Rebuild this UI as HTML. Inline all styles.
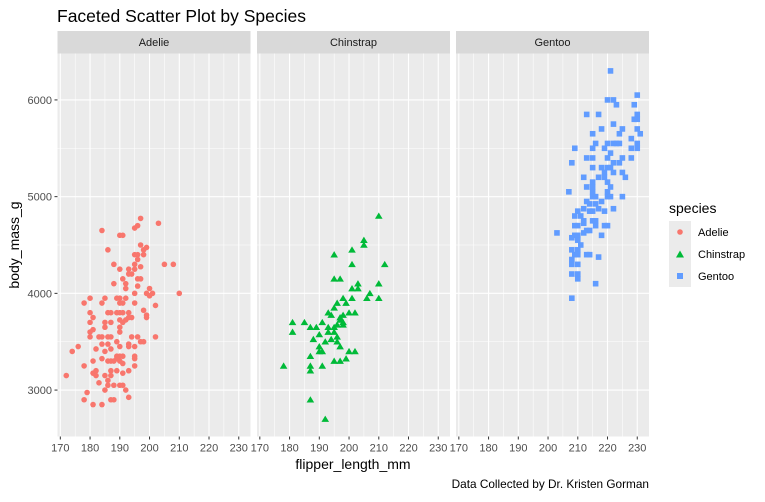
<!DOCTYPE html>
<html><head><meta charset="utf-8">
<style>
html,body{margin:0;padding:0;background:#fff;}
svg text{font-family:"Liberation Sans",Arial,sans-serif;}
</style></head>
<body>
<svg id="chart" width="765" height="497" xmlns="http://www.w3.org/2000/svg">
<text x="57" y="22" font-size="17.5" fill="#000">Faceted Scatter Plot by Species</text>
<g id="panels"></g>
<text x="353" y="469" font-size="14" text-anchor="middle" fill="#000">flipper_length_mm</text>
<text transform="translate(19,245) rotate(-90)" font-size="14" text-anchor="middle" fill="#000">body_mass_g</text>
<text x="649" y="488" font-size="11.8" text-anchor="end" fill="#000">Data Collected by Dr. Kristen Gorman</text>
<g>
<text x="669" y="213" font-size="14" fill="#000">species</text>
<rect x="669" y="221" width="22" height="22" fill="#ebebeb"/>
<circle cx="680" cy="232" r="2.8" fill="#F8766D"/>
<text x="698" y="236" font-size="11" fill="#000">Adelie</text>
<rect x="669" y="243" width="22" height="22" fill="#ebebeb"/>
<polygon points="680,250.5 684,257.5 676,257.5" fill="#00BA38"/>
<text x="698" y="258" font-size="11" fill="#000">Chinstrap</text>
<rect x="669" y="265" width="22" height="22" fill="#ebebeb"/>
<rect x="677" y="273" width="6" height="6" fill="#619CFF"/>
<text x="698" y="280" font-size="11" fill="#000">Gentoo</text>
</g>
</svg>
<script>
const species = ["Adelie","Chinstrap","Gentoo"];
const xTicks = [170,180,190,200,210,220,230];
const yTicks = [3000,4000,5000,6000];
const adelieFlipper = [197,203,196,195,184,190,191,197,199,186,198,195,196,198,196,188,195,205,208,190,193,195,197,193,194,196,197,191,188,192,192,196,200,195,199,201,200,210,180,185,189,190,192,178,184,190,191,195,202,198,180,186,187,189,190,191,193,199,199,181,194,193,192,190,191,185,187,180,190,185,181,180,190,180,183,184,186,187,194,196,202,197,198,184,189,193,176,186,190,193,195,174,182,185,187,191,189,190,195,195,184,186,187,188,189,190,181,178,191,195,187,189,193,191,181,182,182,185,187,172,186,183,186,188,190,191,185,192,179,178,187,188,193,181,184];
const adelieMass = [4775,4725,4700,4675,4650,4600,4600,4500,4475,4450,4450,4400,4400,4400,4350,4300,4300,4300,4300,4250,4250,4250,4275,4200,4200,4150,4150,4150,4100,4100,4050,4075,4050,4000,4000,4000,3975,4000,3950,3950,3950,3950,3950,3900,3900,3900,3900,3900,3875,3825,3800,3800,3800,3800,3800,3800,3800,3775,3750,3750,3750,3750,3725,3725,3700,3700,3700,3700,3650,3650,3625,3600,3600,3550,3550,3550,3550,3550,3550,3550,3550,3500,3500,3475,3500,3475,3450,3475,3450,3450,3450,3400,3425,3400,3425,3350,3350,3350,3350,3325,3325,3300,3300,3300,3325,3300,3300,3250,3275,3250,3200,3200,3200,3175,3175,3200,3150,3150,3150,3150,3100,3075,3050,3050,3050,3050,3000,3000,2975,2900,2900,2900,2925,2850,2850];
const chinFlipper = [210,205,205,195,201,201,212,195,197,203,203,201,210,207,206,210,198,201,196,199,195,193,194,200,202,198,197,197,198,198,196,195,193,191,189,187,185,181,181,193,195,190,196,194,188,192,196,190,197,190,191,200,202,187,199,195,197,178,187,191,187,187,192];
const chinMass = [4800,4550,4500,4400,4450,4300,4300,4150,4150,4100,4050,4050,4100,4000,3950,3950,3950,3950,3900,3900,3850,3800,3775,3800,3800,3775,3750,3725,3700,3675,3675,3650,3650,3700,3650,3650,3700,3700,3600,3600,3600,3575,3550,3525,3525,3500,3500,3450,3450,3400,3400,3400,3400,3350,3325,3300,3300,3250,3250,3250,3200,2900,2700];
const gentooFlipper = [221,230,220,222,223,229,213,217,230,229,230,222,218,225,215,224,230,231,228,216,220,222,223,224,230,209,215,219,228,230,221,213,215,220,225,228,208,222,224,215,218,220,221,219,222,225,212,217,219,226,220,215,213,215,221,207,215,220,215,216,220,221,225,213,214,216,218,217,212,222,210,214,215,219,209,211,212,215,216,212,216,209,210,219,220,212,213,214,203,209,210,218,208,210,211,208,210,209,210,213,214,217,208,208,210,208,210,210,216,208];
const gentooMass = [6300,6050,6000,6000,5950,5950,5850,5850,5850,5800,5800,5750,5700,5700,5650,5650,5700,5650,5600,5550,5550,5550,5550,5550,5550,5500,5500,5500,5500,5500,5450,5400,5400,5400,5400,5400,5350,5350,5350,5300,5300,5300,5300,5250,5250,5250,5200,5200,5200,5200,5150,5150,5100,5100,5100,5050,5050,5050,5000,5000,5000,5000,5000,4950,4925,4925,4950,4875,4875,4875,4850,4850,4850,4850,4800,4800,4750,4750,4750,4725,4700,4700,4700,4700,4700,4625,4650,4650,4625,4600,4600,4600,4575,4550,4500,4450,4450,4400,4400,4400,4400,4375,4350,4300,4300,4200,4200,4150,4100,3950];

const NS="http://www.w3.org/2000/svg";
const g=document.getElementById('panels');
const panelX=[57.5,257,456], panelW=193, pTop=53.5, pBottom=436.5;
const xMin=169.05, xMax=233.95, yMin=2520, yMax=6480;
function sx(p,v){return panelX[p]+(v-xMin)/(xMax-xMin)*panelW;}
function sy(v){return pBottom-(v-yMin)/(yMax-yMin)*(pBottom-pTop);}
function mk(tag,attrs){const e=document.createElementNS(NS,tag);for(const k in attrs)e.setAttribute(k,attrs[k]);g.appendChild(e);return e;}
const colors=["#F8766D","#00BA38","#619CFF"];
const xs=[adelieFlipper,chinFlipper,gentooFlipper], ys=[adelieMass,chinMass,gentooMass];
for(let p=0;p<3;p++){
  const bg=mk('rect',{x:panelX[p],y:pTop,width:panelW,height:pBottom-pTop,fill:'#ebebeb'});
  
  
  for(let v=175;v<=230;v+=10){mk('line',{x1:sx(p,v),x2:sx(p,v),y1:pTop,y2:pBottom,stroke:'#fff','stroke-width':0.55});}
  for(let v=3500;v<=6000;v+=1000){mk('line',{x1:panelX[p],x2:panelX[p]+panelW,y1:sy(v),y2:sy(v),stroke:'#fff','stroke-width':0.55});}
  xTicks.forEach(v=>{mk('line',{x1:sx(p,v),x2:sx(p,v),y1:pTop,y2:pBottom,stroke:'#fff','stroke-width':1.1});
    mk('line',{x1:sx(p,v),x2:sx(p,v),y1:pBottom,y2:pBottom+3,stroke:'#333','stroke-width':1});
    const t=mk('text',{x:sx(p,v),y:pBottom+15,'font-size':11,'text-anchor':'middle',fill:'#4d4d4d'});t.textContent=v;
    
    });
  yTicks.forEach(v=>{mk('line',{x1:panelX[p],x2:panelX[p]+panelW,y1:sy(v),y2:sy(v),stroke:'#fff','stroke-width':1.1});});
  const st=mk('rect',{x:panelX[p],y:31,width:panelW,height:22.5,fill:'#d9d9d9'});
  
  
  const stt=mk('text',{x:panelX[p]+panelW/2,y:46,'font-size':11,'text-anchor':'middle',fill:'#1a1a1a'});stt.textContent=species[p];
  
  
  for(let i=0;i<xs[p].length;i++){
    const cx=sx(p,xs[p][i]), cy=sy(ys[p][i]); let e;
    if(p===0)e=mk('circle',{cx:cx,cy:cy,r:2.8,fill:colors[0]});
    else if(p===1)e=mk('polygon',{points:`${cx},${cy-3.5} ${cx+3.8},${cy+2.8} ${cx-3.8},${cy+2.8}`,fill:colors[1]});
    else e=mk('rect',{x:cx-2.8,y:cy-2.8,width:5.6,height:5.6,fill:colors[2]});
    
    
  }
}
yTicks.forEach(v=>{mk('line',{x1:54.5,x2:57.5,y1:sy(v),y2:sy(v),stroke:'#333','stroke-width':1});
  const t=mk('text',{x:52,y:sy(v)+4,'font-size':11,'text-anchor':'end',fill:'#4d4d4d'});t.textContent=v;
  
  });
</script>
</body></html>
